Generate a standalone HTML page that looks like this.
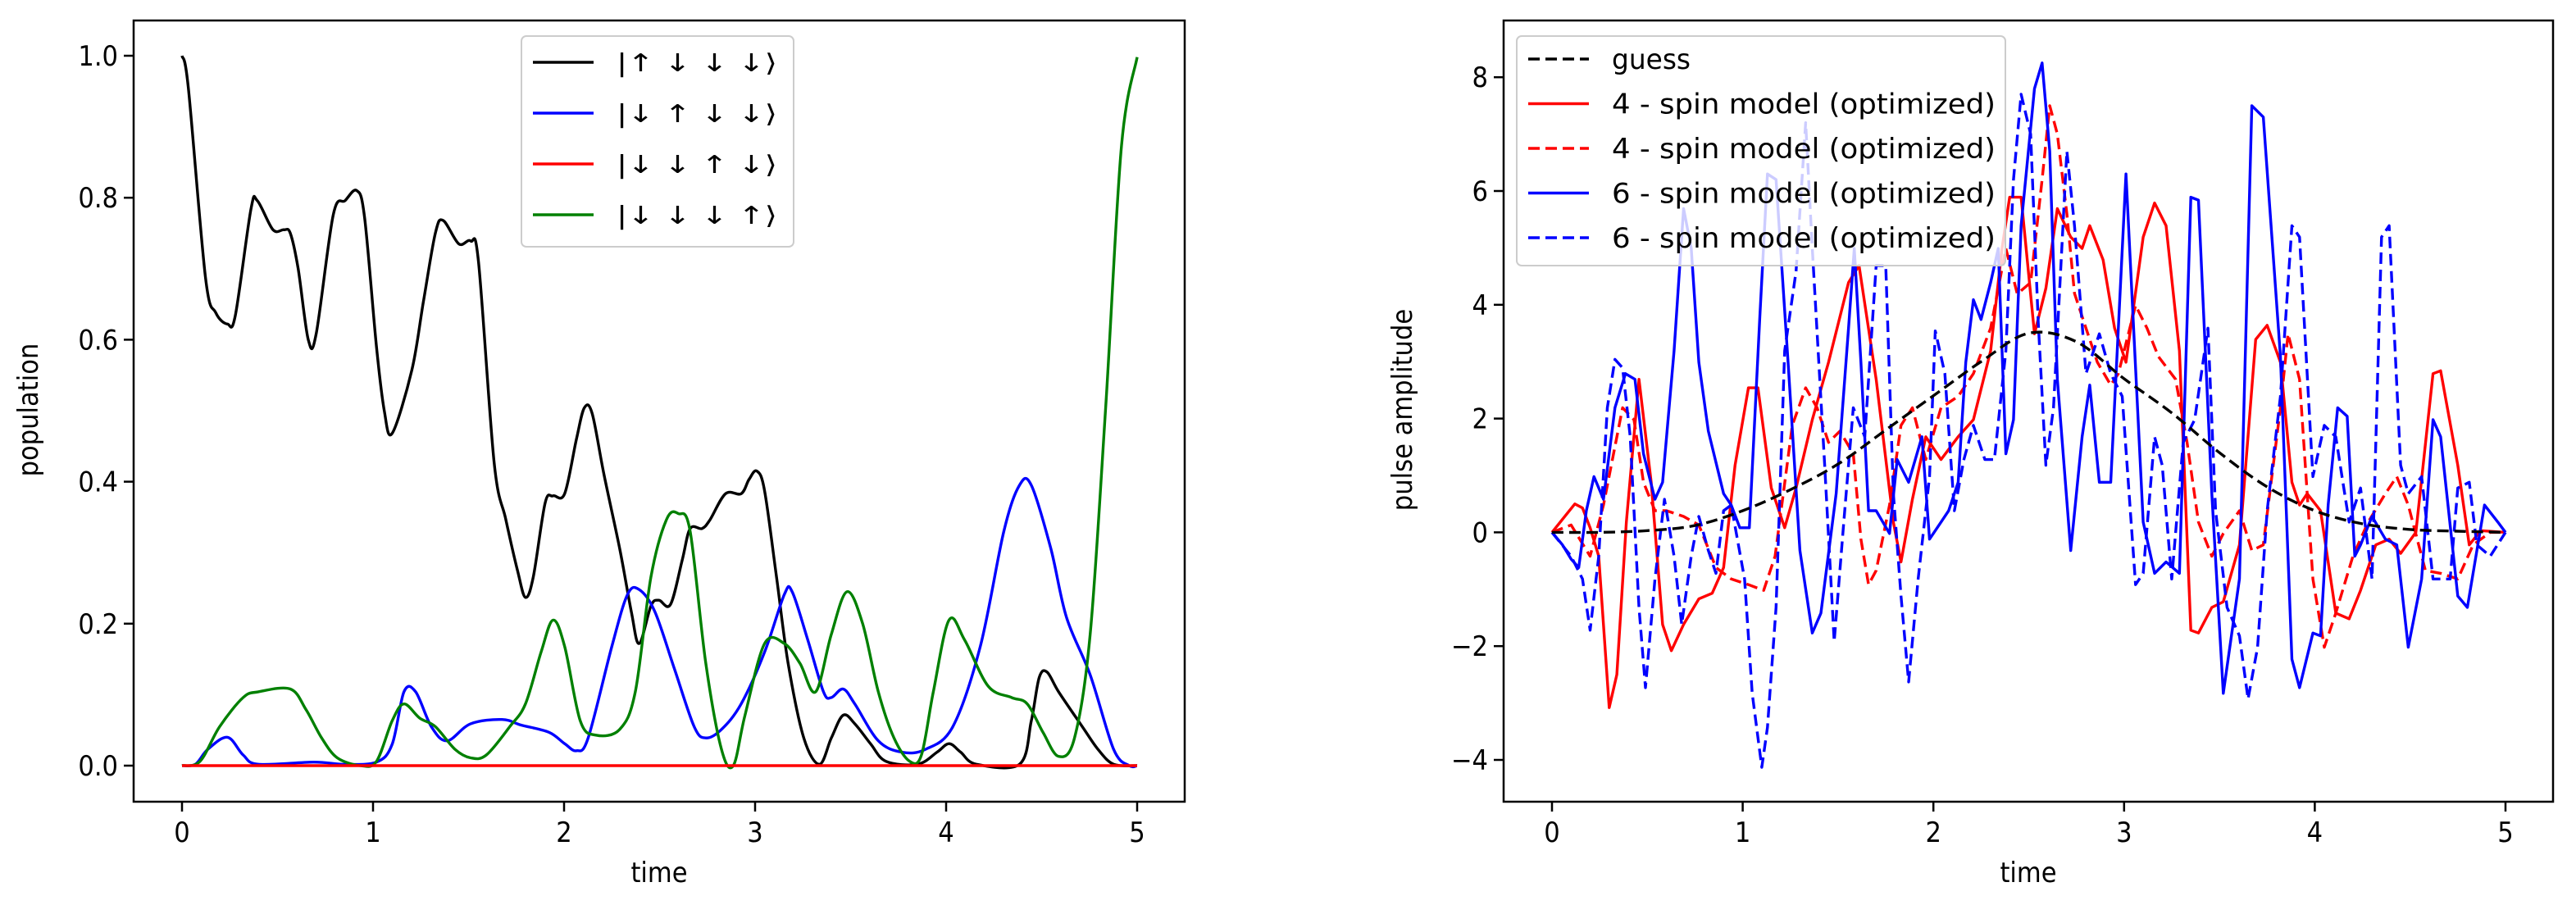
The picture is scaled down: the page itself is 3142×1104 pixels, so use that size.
<!DOCTYPE html>
<html><head><meta charset="utf-8"><style>
html,body{margin:0;padding:0;background:#fff}
svg{display:block}
text{font-family:"DejaVu Sans","Liberation Sans",sans-serif;font-stretch:condensed;fill:#000}
</style></head><body>
<svg id="fig" width="3142" height="1104" viewBox="0 0 3142 1104" xmlns="http://www.w3.org/2000/svg">
<rect x="0" y="0" width="3142" height="1104" fill="#fff"/>
<g id="left"></g>
<g id="right"></g>
</svg>
<script>
// ---- Left chart data ----
const blackT=[0,.033,.123,.177,.238,.279,.361,.394,.476,.534,.567,.608,.661,.702,.792,.854,.915,.956,1.018,1.059,1.100,1.203,1.264,1.326,1.367,1.449,1.511,1.552,1.634,1.695,1.757,1.798,1.839,1.901,1.942,2.003,2.065,2.106,2.147,2.209,2.291,2.352,2.393,2.455,2.496,2.557,2.619,2.660,2.722,2.763,2.845,2.927,2.968,3.009,3.050,3.112,3.173,3.255,3.337,3.399,3.461,3.522,3.604,3.686,3.851,3.953,4.015,4.076,4.158,4.384,4.446,4.487,4.528,4.589,4.713,4.795,4.877,5];
const blackV=[1.0,.955,.687,.638,.622,.634,.784,.796,.755,.755,.75,.70,.60,.608,.776,.796,.81,.772,.59,.50,.468,.557,.654,.75,.768,.735,.739,.71,.427,.347,.274,.237,.266,.37,.38,.383,.46,.504,.496,.41,.306,.217,.172,.225,.233,.227,.29,.334,.334,.346,.383,.383,.403,.415,.387,.266,.144,.039,.002,.039,.071,.059,.031,.006,.002,.019,.031,.019,.002,.002,.063,.124,.132,.104,.055,.023,.002,0];
const blueT=[0,.07,.135,.238,.32,.40,.69,.85,1.018,1.10,1.162,1.223,1.305,1.388,1.511,1.675,1.777,1.921,2.003,2.065,2.126,2.25,2.332,2.393,2.475,2.578,2.681,2.742,2.824,2.927,3.05,3.153,3.194,3.276,3.358,3.399,3.461,3.522,3.645,3.768,3.892,4.035,4.179,4.302,4.384,4.446,4.548,4.63,4.754,4.877,4.959,5];
const blueV=[0,.002,.023,.04,.015,.002,.005,.002,.005,.03,.104,.104,.055,.035,.059,.065,.057,.047,.031,.021,.039,.168,.241,.248,.217,.136,.055,.039,.051,.087,.16,.241,.245,.177,.104,.096,.108,.087,.035,.019,.023,.055,.168,.33,.395,.395,.306,.209,.128,.023,0,0];
const greenT=[0,.094,.197,.32,.40,.567,.649,.731,.813,.936,1.018,1.10,1.162,1.244,1.326,1.429,1.511,1.593,1.716,1.798,1.88,1.942,2.003,2.085,2.167,2.291,2.373,2.455,2.537,2.599,2.66,2.742,2.824,2.886,2.947,3.05,3.153,3.235,3.317,3.399,3.481,3.563,3.645,3.727,3.81,3.871,3.933,4.015,4.097,4.22,4.343,4.425,4.507,4.589,4.672,4.754,4.836,4.918,5];
const greenV=[0,.006,.055,.096,.104,.108,.079,.039,.011,0,.006,.063,.087,.067,.055,.023,.011,.015,.055,.087,.16,.205,.168,.063,.043,.051,.104,.266,.347,.355,.33,.144,.023,0,.071,.172,.172,.144,.104,.185,.245,.20,.104,.039,.006,.015,.104,.205,.177,.112,.096,.087,.047,.013,.039,.185,.508,.873,.998];
const redT=[0,5];
const redV=[0,0];
const leftXTicks=[0,1,2,3,4,5];
const leftYTicks=[0,0.2,0.4,0.6,0.8,1.0];
const leftYLabels=["0.0","0.2","0.4","0.6","0.8","1.0"];
const leftLegend=["|↑ ↓ ↓ ↓⟩","|↓ ↑ ↓ ↓⟩","|↓ ↓ ↑ ↓⟩","|↓ ↓ ↓ ↑⟩"];

// ---- Right chart data ----
const guessT=[0,.25,.5,.75,1,1.25,1.5,1.75,2,2.25,2.5,2.75,3,3.25,3.5,3.75,4,4.25,4.5,4.75,5];
const guessV=[0,0,.03,.12,.38,.75,1.2,1.8,2.4,3.0,3.5,3.35,2.7,2.1,1.4,.8,.38,.15,.05,.02,0];
const r4T=[0,.12,.16,.2,.245,.30,.34,.39,.456,.52,.58,.626,.69,.77,.84,.90,.96,1.03,1.08,1.15,1.22,1.28,1.365,1.45,1.555,1.61,1.70,1.79,1.83,1.89,1.96,2.04,2.13,2.21,2.30,2.36,2.40,2.46,2.53,2.59,2.65,2.72,2.78,2.82,2.89,2.95,3.01,3.10,3.16,3.22,3.29,3.35,3.39,3.46,3.52,3.605,3.69,3.75,3.82,3.88,3.92,3.96,4.03,4.11,4.18,4.24,4.32,4.39,4.45,4.53,4.62,4.66,4.75,4.81,4.87,5];
const r4V=[0,.5,.43,.08,-.42,-3.08,-2.5,.18,2.69,.88,-1.62,-2.08,-1.62,-1.17,-1.07,-.62,1.18,2.54,2.54,.78,.08,.78,1.98,2.99,4.39,4.69,2.69,.18,-.52,.58,1.68,1.28,1.68,1.98,3.19,4.99,5.89,5.89,3.49,4.29,5.69,5.19,4.99,5.39,4.79,3.59,2.99,5.19,5.79,5.39,3.19,-1.72,-1.77,-1.32,-1.22,-.22,3.39,3.64,2.99,.88,.48,.68,.38,-1.42,-1.52,-1.02,-.22,-.12,-.37,0,2.79,2.84,1.18,-.22,.03,0];
const r4dT=[0,.1,.2,.27,.37,.43,.48,.54,.60,.69,.77,.86,.94,1.03,1.11,1.17,1.26,1.33,1.39,1.45,1.51,1.58,1.62,1.66,1.70,1.77,1.83,1.89,1.96,2.04,2.13,2.21,2.30,2.38,2.44,2.51,2.57,2.61,2.65,2.70,2.74,2.80,2.86,2.93,2.97,3.06,3.12,3.18,3.27,3.33,3.39,3.46,3.52,3.605,3.67,3.73,3.82,3.86,3.92,3.99,4.05,4.11,4.20,4.28,4.37,4.43,4.49,4.58,4.66,4.75,4.83,4.92,5];
const r4dV=[0,.13,-.42,.48,2.19,1.98,.88,.38,.38,.28,.13,-.62,-.82,-.92,-1.02,-.42,1.88,2.54,2.19,1.58,1.78,1.38,-.12,-.92,-.67,.48,1.88,2.19,1.28,2.19,2.39,2.79,3.59,4.99,4.19,4.39,6.2,7.5,7.0,5.6,4.2,3.59,2.99,2.59,2.79,3.99,3.59,3.09,2.69,1.58,.18,-.42,-.02,.38,-.32,-.22,2.19,3.49,2.69,-.82,-2.02,-1.42,-.42,.18,.68,.98,.48,-.67,-.72,-.82,-.22,0,0];
const b6T=[0,.055,.10,.14,.18,.22,.27,.33,.385,.435,.48,.54,.58,.64,.69,.73,.77,.82,.90,.94,.985,1.035,1.09,1.13,1.175,1.24,1.30,1.365,1.41,1.49,1.555,1.585,1.62,1.66,1.70,1.77,1.81,1.87,1.94,1.98,2.04,2.08,2.13,2.17,2.21,2.25,2.30,2.34,2.38,2.42,2.46,2.53,2.57,2.61,2.65,2.72,2.78,2.82,2.87,2.93,3.01,3.10,3.16,3.22,3.29,3.35,3.39,3.46,3.52,3.605,3.67,3.73,3.82,3.88,3.92,3.99,4.03,4.07,4.12,4.17,4.21,4.24,4.30,4.37,4.43,4.49,4.56,4.62,4.66,4.75,4.80,4.85,4.89,4.96,5];
const b6V=[0,-.22,-.47,-.62,.38,.98,.58,2.19,2.79,2.69,1.38,.58,.88,3.19,5.69,5.0,2.99,1.78,.68,.48,.08,.08,3.79,6.3,6.2,2.89,-.32,-1.77,-1.42,.68,3.59,4.99,2.99,.38,.38,-.02,1.28,.88,1.68,-.12,.18,.38,.88,2.99,4.09,3.74,4.39,4.99,1.38,1.98,5.39,7.8,8.25,6.7,2.69,-.32,1.68,2.59,.88,.88,6.3,.18,-.72,-.52,-.72,5.89,5.84,.68,-2.83,-.82,7.5,7.3,3.09,-2.23,-2.73,-1.77,-1.82,.48,2.19,2.04,-.42,-.22,.28,-.12,-.22,-2.02,-.82,1.98,1.68,-1.12,-1.32,-.32,.48,.18,0];
const b6dT=[0,.10,.16,.20,.245,.29,.33,.37,.41,.456,.49,.54,.59,.64,.68,.73,.77,.82,.86,.90,.94,1.01,1.05,1.10,1.13,1.175,1.22,1.28,1.33,1.365,1.43,1.48,1.53,1.58,1.64,1.70,1.75,1.79,1.83,1.87,1.92,1.98,2.01,2.06,2.11,2.16,2.21,2.27,2.32,2.38,2.42,2.46,2.51,2.55,2.59,2.63,2.70,2.74,2.80,2.87,2.93,2.99,3.06,3.10,3.16,3.20,3.25,3.31,3.37,3.44,3.48,3.54,3.605,3.65,3.70,3.75,3.82,3.88,3.92,3.99,4.05,4.11,4.18,4.24,4.30,4.35,4.39,4.45,4.49,4.56,4.62,4.71,4.75,4.81,4.85,4.92,5];
const b6dV=[0,-.42,-.82,-1.72,-.42,2.19,3.04,2.89,1.68,-1.32,-2.73,-.82,.58,-.42,-1.62,-.42,.28,-.32,-.72,.38,.48,-.82,-2.83,-4.13,-3.43,-1.32,3.19,4.59,7.2,4.99,1.18,-1.92,.18,2.19,1.68,4.69,4.69,.68,-1.12,-2.63,-.82,.98,3.54,2.79,.38,1.28,1.88,1.28,1.28,3.19,6.2,7.7,7.0,3.69,1.18,2.19,6.7,5.39,2.79,3.49,2.79,2.39,-.92,-.72,1.68,1.18,-.82,1.58,1.98,3.59,.38,-1.32,-1.82,-2.93,-2.02,.38,2.39,5.39,5.19,.98,1.88,1.68,.18,.78,-.82,5.19,5.39,1.18,.68,.98,-.82,-.82,.78,.88,-.22,-.42,0];
const rightXTicks=[0,1,2,3,4,5];
const rightYTicks=[-4,-2,0,2,4,6,8];
const rightYLabels=["−4","−2","0","2","4","6","8"];
const rightLegend=["guess","4 - spin model (optimized)","4 - spin model (optimized)","6 - spin model (optimized)","6 - spin model (optimized)"];

const NS="http://www.w3.org/2000/svg";
function mk(tag,parent,attrs){const e=document.createElementNS(NS,tag);for(const k in attrs)e.setAttribute(k,attrs[k]);parent.appendChild(e);return e;}

// axis functions
const Lx=t=>222+t*233, Ly=v=>934-v*866;
const Rx=t=>1893+t*232.6, Ry=v=>649.4-v*69.4;

function smoothPath(xs,ys,fx,fy){
  const p=xs.map((t,i)=>[fx(t),fy(ys[i])]);
  let d="M"+p[0][0].toFixed(1)+","+p[0][1].toFixed(1);
  for(let i=0;i<p.length-1;i++){
    const p0=p[Math.max(i-1,0)],p1=p[i],p2=p[i+1],p3=p[Math.min(i+2,p.length-1)];
    const c1=[p1[0]+(p2[0]-p0[0])/6,p1[1]+(p2[1]-p0[1])/6];
    const c2=[p2[0]-(p3[0]-p1[0])/6,p2[1]-(p3[1]-p1[1])/6];
    d+=" C"+c1[0].toFixed(1)+","+c1[1].toFixed(1)+" "+c2[0].toFixed(1)+","+c2[1].toFixed(1)+" "+p2[0].toFixed(1)+","+p2[1].toFixed(1);
  }
  return d;
}
function linePath(xs,ys,fx,fy){return xs.map((t,i)=>(i?"L":"M")+fx(t).toFixed(1)+","+fy(ys[i]).toFixed(1)).join(" ");}

// ===== LEFT =====
const L=document.getElementById('left');
const lclip=mk('clipPath',L,{id:'lc'});mk('rect',lclip,{x:163,y:25,width:1282,height:953});
const lseries=[[blackT,blackV,'#000','line-up-down-down-down'],[blueT,blueV,'#0000ff','line-down-up-down-down'],[greenT,greenV,'#008000','line-down-down-down-up'],[redT,redV,'#ff0000','line-down-down-up-down']];
lseries.forEach(s=>{
  const p=mk('path',L,{d:smoothPath(s[0],s[1],Lx,Ly),fill:'none',stroke:s[2],'stroke-width':3.4,'clip-path':'url(#lc)','stroke-linejoin':'round'});
  
  
});
const lframe=mk('rect',L,{x:163,y:25,width:1282,height:953,fill:'none',stroke:'#000','stroke-width':2.5});


leftXTicks.forEach(t=>{
  mk('line',L,{x1:Lx(t),x2:Lx(t),y1:978,y2:990,stroke:'#000','stroke-width':2.5});
  const tx=mk('text',L,{x:Lx(t),y:1027,'font-size':34,'text-anchor':'middle'});tx.textContent=t;
  
  
});
leftYTicks.forEach((v,i)=>{
  mk('line',L,{x1:151,x2:163,y1:Ly(v),y2:Ly(v),stroke:'#000','stroke-width':2.5});
  const tx=mk('text',L,{x:144,y:Ly(v)+12,'font-size':34,'text-anchor':'end'});tx.textContent=leftYLabels[i];
  
  
});
const lxl=mk('text',L,{x:804,y:1076,'font-size':34,'text-anchor':'middle'});lxl.textContent='time';


const lyl=mk('text',L,{x:0,y:0,'font-size':34,'text-anchor':'middle',transform:'translate(46,500) rotate(-90)'});lyl.textContent='population';


const lleg=mk('g',L,{});


mk('rect',lleg,{x:636,y:44,width:332,height:257,rx:6,fill:'#fff','fill-opacity':0.8,stroke:'#ccc','stroke-width':2});
const lcols=['#000','#0000ff','#ff0000','#008000'];
leftLegend.forEach((s,i)=>{
  const y=76+i*62;
  mk('line',lleg,{x1:650,x2:724,y1:y,y2:y,stroke:lcols[i],'stroke-width':3.4});
  const tx=mk('text',lleg,{x:752,y:y+11,'font-size':30,textLength:196,lengthAdjust:'spacingAndGlyphs'});tx.textContent=s;
  
  
});

// ===== RIGHT =====
const R=document.getElementById('right');
const rclip=mk('clipPath',R,{id:'rc'});mk('rect',rclip,{x:1834,y:25,width:1280,height:953});
const rseries=[
 [r4T,r4V,'#ff0000','','red-4-spin-solid'],
 [r4dT,r4dV,'#ff0000','14 7','red-4-spin-dashed'],
 [b6T,b6V,'#0000ff','','blue-6-spin-solid'],
 [b6dT,b6dV,'#0000ff','14 7','blue-6-spin-dashed'],
 [guessT,guessV,'#000','14 7','guess-line']];
rseries.forEach(s=>{
  const a={d:(s[4]==='guess-line'?smoothPath:linePath)(s[0],s[1],Rx,Ry),fill:'none',stroke:s[2],'stroke-width':3.4,'clip-path':'url(#rc)','stroke-linejoin':'round'};
  if(s[3])a['stroke-dasharray']=s[3];
  const p=mk('path',R,a);
  
  
});
const rframe=mk('rect',R,{x:1834,y:25,width:1280,height:953,fill:'none',stroke:'#000','stroke-width':2.5});


rightXTicks.forEach(t=>{
  mk('line',R,{x1:Rx(t),x2:Rx(t),y1:978,y2:990,stroke:'#000','stroke-width':2.5});
  const tx=mk('text',R,{x:Rx(t),y:1027,'font-size':34,'text-anchor':'middle'});tx.textContent=t;
  
  
});
rightYTicks.forEach((v,i)=>{
  mk('line',R,{x1:1822,x2:1834,y1:Ry(v),y2:Ry(v),stroke:'#000','stroke-width':2.5});
  const tx=mk('text',R,{x:1815,y:Ry(v)+12,'font-size':34,'text-anchor':'end'});tx.textContent=rightYLabels[i];
  
  
});
const rxl=mk('text',R,{x:2474,y:1076,'font-size':34,'text-anchor':'middle'});rxl.textContent='time';


const ryl=mk('text',R,{x:0,y:0,'font-size':34,'text-anchor':'middle',transform:'translate(1722,500) rotate(-90)'});ryl.textContent='pulse amplitude';


const rleg=mk('g',R,{});


mk('rect',rleg,{x:1850,y:44,width:596,height:280,rx:6,fill:'#fff','fill-opacity':0.8,stroke:'#ccc','stroke-width':2});
const rcols=['#000','#ff0000','#ff0000','#0000ff','#0000ff'];
const rdash=['14 7','','14 7','','14 7'];
rightLegend.forEach((s,i)=>{
  const y=72+i*54.5;
  const a={x1:1864,x2:1938,y1:y,y2:y,stroke:rcols[i],'stroke-width':3.4};
  if(rdash[i])a['stroke-dasharray']=rdash[i];
  mk('line',rleg,a);
  const at={x:1966,y:y+12,'font-size':34};
  at.textLength=(i>0?468:96);at.lengthAdjust='spacingAndGlyphs';
  const tx=mk('text',rleg,at);tx.textContent=s;
  
  
});
</script>
</body></html>
